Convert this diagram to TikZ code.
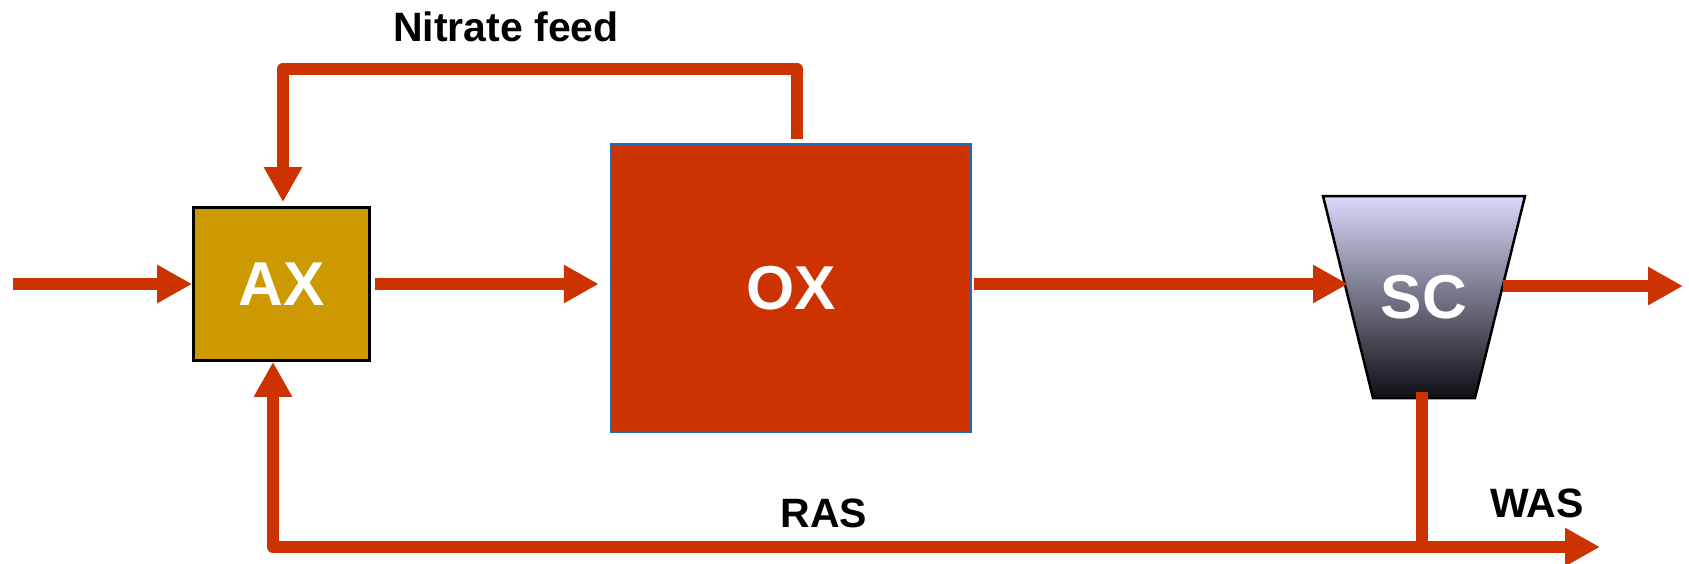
\documentclass[tikz,border=0pt]{standalone}
\usepackage{fontspec}
\setmainfont{Liberation Sans}
\usetikzlibrary{arrows.meta}
\definecolor{flow}{RGB}{204,51,0}
\definecolor{axfill}{RGB}{204,153,0}
\definecolor{oxborder}{RGB}{31,108,184}
\definecolor{sctop}{RGB}{216,216,250}
\definecolor{scmid}{RGB}{160,160,192}
\definecolor{scbot}{RGB}{15,15,20}
\tikzset{
  flowline/.style={draw=flow, line width=12pt, line join=round, -{Triangle[length=35pt,width=36pt]}},
  unitlabel/.style={text=white, font=\bfseries\fontsize{62}{62}\selectfont},
  flowlabel/.style={text=black, font=\bfseries\fontsize{41}{41}\selectfont, anchor=base},
}
\begin{document}
\begin{tikzpicture}[x=1pt,y=-1pt]
\useasboundingbox (0,0) rectangle (1689,563);
% units
\node[draw=black, line width=2.7pt, fill=axfill, minimum width=176pt, minimum height=153pt, inner sep=0pt, unitlabel] (AX) at (281.5,284) {AX};
\node[draw=oxborder, line width=2.5pt, fill=flow, minimum width=360pt, minimum height=288pt, inner sep=0pt, unitlabel] (OX) at (791,288) {OX};
\shade[top color=sctop, middle color=scmid, bottom color=scbot, draw=black, line width=2.5pt]
  (1323,196) -- (1525,196) -- (1475,398) -- (1373,398) -- cycle;
\node[unitlabel] (SC) at (1424,297) {SC};
% ports
\coordinate (feed) at (13,284);
\coordinate (SCin) at (1348,284);
\coordinate (SCout) at (1503,286);
\coordinate (effluent) at (1683,286);
\coordinate (SCunder) at (1422,392);
\coordinate (RASjoin) at (1422,547);
\coordinate (WASend) at (1600,547);
% connectors
\draw[flowline] (feed) -- (AX.west);
\draw[flowline, shorten <=4pt, shorten >=11pt] (AX.east) -- (AX.east -| OX.west);
\draw[flowline, shorten <=2pt] (SCin -| OX.east) -- (SCin);
\draw[flowline] (SCout) -- (effluent);
\draw[flowline] ([shift={(6pt,4pt)}]OX.north) -- ++(0,-70) -| ([xshift=1.5pt,yshift=4pt]AX.north);
\draw[flowline] (SCunder) -- (RASjoin) -| ([xshift=-8.5pt]AX.south);
\draw[flowline] (RASjoin) -- (WASend);
% labels
\node[flowlabel] (nitrate) at (506,41) {Nitrate feed};
\node[flowlabel] (ras) at (824,527) {RAS};
\node[flowlabel] (was) at (1537,517) {WAS};
\end{tikzpicture}
\end{document}
